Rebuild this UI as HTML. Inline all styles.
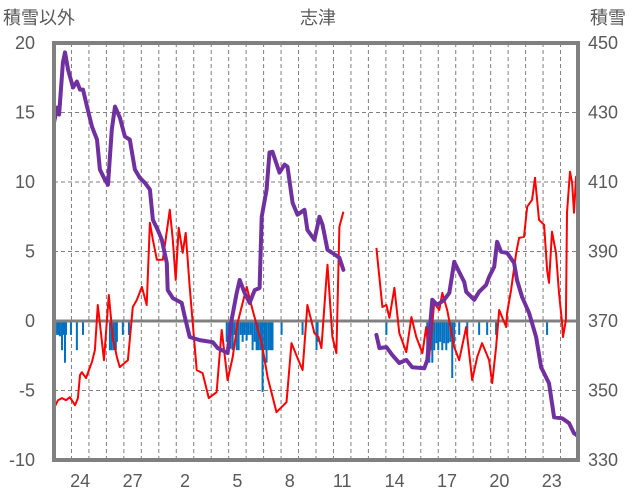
<!DOCTYPE html>
<html><head><meta charset="utf-8"><style>
html,body{margin:0;padding:0;background:#fff;}
svg{display:block;font-family:"Liberation Sans","Noto Sans CJK JP",sans-serif;}
</style></head><body>
<svg id="chart" width="636" height="501">
<g id="grid"></g><g id="bars"></g><g id="lines"></g><g id="frame"></g><g id="labels"></g>
</svg>
<script>
const dayLabels=["24","27","2","5","8","11","14","17","20","23"];
const dayLabelIdx=[1,4,7,10,13,16,19,22,25,28];
const leftTicks=[20,15,10,5,0,-5,-10];
const rightTicks=[450,430,410,390,370,350,330];
const redT=[0,.23,.46,.69,.91,1.2,1.37,1.49,1.6,1.83,2.0,2.17,2.34,2.51,2.86,3.14,3.37,3.6,3.77,4.23,4.51,4.74,5.03,5.31,5.49,5.66,5.89,6.23,6.63,6.8,6.97,7.14,7.37,7.54,7.77,8.17,8.51,8.86,9.31,9.6,9.94,10.23,10.51,11.03,11.37,11.89,12.23,12.74,13.31,13.6,14.06,14.23,14.51,14.91,15.14,15.31,15.6,15.66,15.94,16.17,16.34,16.57,17.5,18.46,18.8,19.03,19.2,19.49,19.77,20.17,20.46,20.74,21.09,21.31,21.49,21.77,22.06,22.23,22.51,22.91,23.2,23.6,23.94,24.23,24.51,24.91,25.09,25.31,25.49,25.89,25.94,26.17,26.46,26.63,26.91,27.09,27.37,27.54,27.77,28.06,28.23,28.34,28.51,28.74,28.91,29.09,29.14,29.31,29.37,29.54,29.66,29.77,29.89,29.94];
const redV=[-6.27,-5.7,-5.55,-5.7,-5.48,-6.06,-5.55,-3.89,-3.68,-4.11,-3.53,-2.96,-2.09,1.15,-2.81,1.87,-1.23,-2.6,-3.32,-2.81,1.01,1.51,2.45,1.15,7.07,5.84,4.4,4.4,8.0,5.84,2.96,6.71,4.9,6.34,2.45,-3.53,-3.75,-5.55,-5.12,-0.65,-4.25,-2.6,-0.14,2.45,0.79,-1.59,-4.04,-6.56,-5.84,-1.59,-3.03,-3.53,1.15,-0.87,-1.15,-1.95,3.17,4.04,-1.15,-2.31,6.78,7.86,null,5.26,1.01,1.15,0.22,2.38,-0.87,-2.24,0.29,-1.15,-2.31,-0.43,-2.45,1.3,0.79,2.02,0.79,-1.87,-2.81,-0.43,-4.25,-2.6,-1.59,-2.81,-4.47,-1.87,0.79,-0.43,0.58,2.24,4.9,5.98,6.06,8.22,8.72,10.31,7.28,6.92,3.68,2.74,6.42,4.9,2.02,-0.14,-1.15,0.07,7.79,10.74,9.95,7.79,10.38,8.94];
const snowT=[0,.17,.29,.51,.63,.8,1.09,1.31,1.49,1.66,1.89,2.17,2.46,2.63,2.91,3.09,3.31,3.49,3.77,4.06,4.34,4.63,4.91,5.2,5.49,5.66,5.94,6.17,6.46,6.51,6.8,7.31,7.49,7.77,8.34,9.09,9.37,9.94,10.17,10.46,10.63,10.91,11.2,11.49,11.77,11.89,12.17,12.34,12.51,12.91,13.2,13.37,13.66,13.94,14.34,14.51,14.91,15.2,15.37,15.66,15.94,16.34,16.57,17.5,18.46,18.63,19.03,19.37,19.77,20.17,20.51,21.2,21.37,21.66,21.94,22.34,22.63,22.91,23.2,23.49,23.6,24.06,24.34,24.74,24.91,25.2,25.37,25.6,25.94,26.34,26.51,26.8,27.2,27.6,27.89,28.34,28.63,29.09,29.49,29.77,29.94];
const snowV=[427.1,431.4,429.4,444.4,447.3,442.4,437.2,438.9,436.6,436.6,431.7,426.0,422.2,413.6,410.7,409.2,425.1,431.7,428.6,423.1,422.2,413.6,411.2,409.8,407.8,399.1,396.2,393.4,386.7,378.9,376.6,375.2,371.2,365.4,364.5,363.9,362.2,360.8,370.3,378.1,381.8,378.1,375.2,378.9,379.5,400,407.8,418.5,418.7,412.7,415.0,414.4,404.0,400.6,402.0,396.2,393.4,400.0,397.7,390.5,389.6,388.2,384.7,null,366.0,362.2,362.5,360.2,357.9,358.8,356.7,356.4,358.8,376.1,374.6,376.1,378.1,387.0,384.1,381.2,378.4,376.1,378.4,380.4,382.7,385.6,392.8,389.9,389.6,386.7,381.8,376.9,372.3,365.4,356.7,352.1,342.3,342.0,340.6,337.7,337.1];
const barT=[0,.11,.23,.34,.46,.57,.63,.69,.97,1.31,1.66,3.2,3.31,3.43,3.54,3.6,3.94,4.29,9.89,10,10.11,10.23,10.34,10.46,10.57,10.69,10.8,10.91,11.03,11.14,11.26,11.37,11.49,11.6,11.71,11.83,11.94,12.06,12.17,12.29,12.4,12.51,13.03,14.23,15.03,15.09,19.03,21.37,21.49,21.6,21.66,21.77,21.89,22,22.11,22.23,22.34,22.46,22.57,22.69,22.8,22.91,23.2,23.66,24.34,24.8,25.31,28.23];
const barV=[-1,-1,-1,-1.1,-2.1,-1,-3,-1,-1,-2.1,-1,-2.1,-2.1,-2.1,-2.1,-1.5,-1,-1,-1.5,-2.1,-2,-2.1,-1,-2.1,-2.1,-1,-1.5,-1,-1.4,-1,-1,-2.1,-1.5,-2.1,-2.1,-2.1,-5.1,-2.1,-3,-2.1,-2.1,-2.1,-1,-1,-2.1,-1.5,-1,-2.1,-3,-2.1,-3,-2.1,-1.6,-2.1,-1.5,-2.1,-1.6,-2.1,-1.6,-1.5,-4.1,-1.6,-1,-1,-1,-1,-1,-1];

const NS="http://www.w3.org/2000/svg";
const X0=54,X1=578,Y0=43,Y1=460,DAYS=30;
const xS=t=>X0+t*(X1-X0)/DAYS;
const yL=v=>Y1-(v+10)*(Y1-Y0)/30;
const yR=s=>Y1-(s-330)*(Y1-Y0)/120;
function mk(tag,attrs,parent){const e=document.createElementNS(NS,tag);for(const k in attrs)e.setAttribute(k,attrs[k]);document.getElementById(parent).appendChild(e);return e;}
// grid
for(let d=1;d<DAYS;d++){const l=mk('line',{x1:xS(d),x2:xS(d),y1:Y0,y2:Y1,stroke:'#7f7f7f','stroke-width':1,'stroke-dasharray':'4,3'},'grid');

}
leftTicks.forEach(v=>{if(v===0||v===20||v===-10)return;const l=mk('line',{x1:X0,x2:X1,y1:yL(v),y2:yL(v),stroke:'#7f7f7f','stroke-width':1,'stroke-dasharray':'4,3'},'grid');

});
// bars
const bw=2;
barT.forEach((t,i)=>{const y0=yL(0),y=yL(barV[i]);const r=mk('rect',{x:xS(t)-bw/2,y:Math.min(y0,y),width:bw,height:Math.abs(y-y0),fill:'#0070C0'},'bars');

});
// zero line
const z=mk('line',{x1:X0,x2:X1,y1:yL(0),y2:yL(0),stroke:'#808080','stroke-width':3},'lines');


function path(T,V,ys){let d='',pen=false;T.forEach((t,i)=>{const v=V[i];if(v===null){pen=false;return;}d+=(pen?'L':'M')+xS(t).toFixed(1)+','+ys(v).toFixed(1);pen=true;});return d;}
const red=mk('path',{d:path(redT,redV,yL),fill:'none',stroke:'#FF0000','stroke-width':2,'stroke-linejoin':'round'},'lines');


const pu=mk('path',{d:path(snowT,snowV,yR),fill:'none',stroke:'#7030A0','stroke-width':4,'stroke-linejoin':'round','stroke-linecap':'round'},'lines');


// frame
const f=mk('rect',{x:X0,y:Y0,width:X1-X0,height:Y1-Y0,fill:'none',stroke:'#808080','stroke-width':4},'frame');


// labels
function txt(s,x,y,anchor,name){const e=mk('text',{x:x,y:y,'text-anchor':anchor,'font-size':18,fill:'#595959','dominant-baseline':'central'},'labels');e.textContent=s;

return e;}
leftTicks.forEach(v=>txt(String(v),35,yL(v),'end','left-tick-label'));
rightTicks.forEach(v=>txt(String(v),588,yR(v),'start','right-tick-label'));
dayLabels.forEach((s,i)=>txt(s,xS(dayLabelIdx[i]+0.5),481,'middle','x-tick-label'));
txt('志津',318,18,'middle','chart-title');
txt('積雪以外',3,18,'start','left-axis-title');
txt('積雪',590,18,'start','right-axis-title');
</script>
</body></html>
